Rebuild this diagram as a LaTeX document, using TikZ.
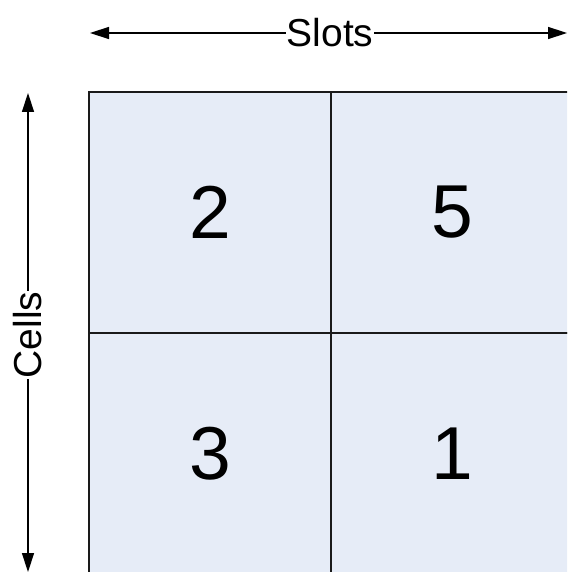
\documentclass[tikz,border=0pt]{standalone}
\usepackage{fontspec}
\setmainfont{Liberation Sans}
\usetikzlibrary{arrows.meta}
\definecolor{cellfill}{HTML}{E6ECF7}
\definecolor{gridline}{HTML}{1A1A1A}
\tikzset{
  cellbox/.style={draw=gridline, line width=1.2pt, fill=cellfill, minimum width=242pt, minimum height=241pt, inner sep=0pt, font=\fontsize{75}{75}\selectfont},
  axislabel/.style={inner sep=1pt, outer sep=0pt, font=\fontsize{39}{39}\selectfont},
  axisarrow/.style={line width=1.4pt, -{Triangle[length=19pt,width=12pt]}}
}
\begin{document}
\begin{tikzpicture}[x=1pt,y=-1pt]
\useasboundingbox (0,0) rectangle (567,572);
\begin{scope}
\clip (0,0) rectangle (567,572);
\node[cellbox] (c25) at (210,212.5) {2};
\node[cellbox] (c5) at (452,212.5) {5};
\node[cellbox] (c3) at (210,453.5) {3};
\node[cellbox] (c1) at (452,453.5) {1};
\end{scope}
\coordinate (sL) at (90,33);
\coordinate (sR) at (567,33);
\node[axislabel] (slots) at (330,33) {Slots};
\draw[axisarrow] (slots) -- (sL);
\draw[axisarrow] (slots) -- (sR);
\coordinate (cT) at (28,93);
\coordinate (cB) at (28,572);
\node[axislabel, rotate=90] (cells) at (28,335) {Cells};
\draw[axisarrow] (cells) -- (cT);
\draw[axisarrow] (cells) -- (cB);
\end{tikzpicture}
\end{document}
